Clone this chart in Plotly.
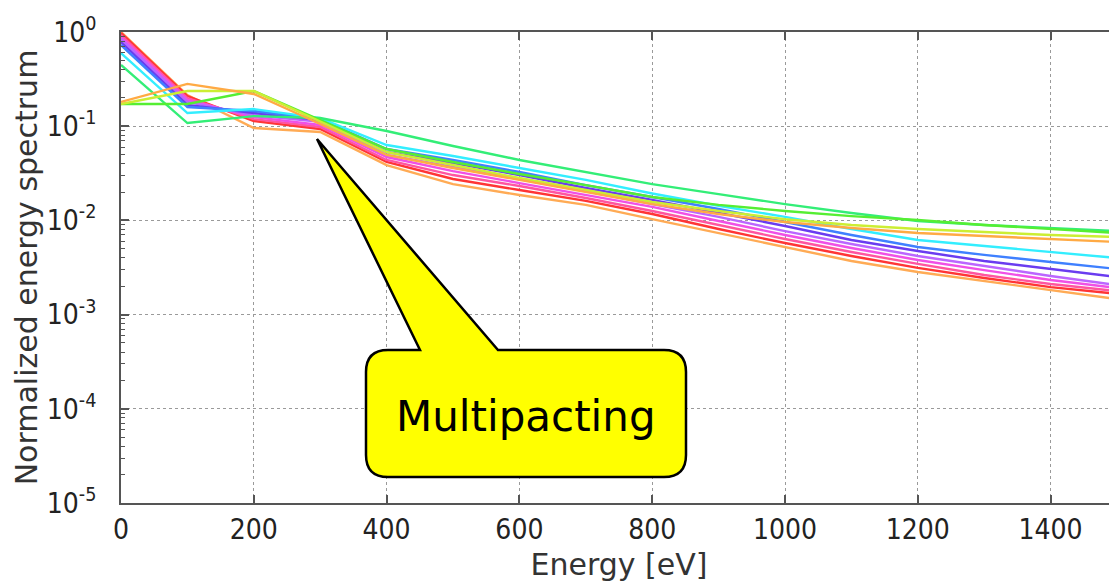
import plotly.graph_objects as go

# ---------------- data ----------------
energy = [0, 100, 200, 300, 400, 500, 600, 700, 800, 900, 1000, 1100, 1200, 1300, 1400, 1500]

spec_orange_low = [1.0, 0.214, 0.0957, 0.0868, 0.0387, 0.0243, 0.0186, 0.0146, 0.0103, 0.00735, 0.00522, 0.00371, 0.00283, 0.00227, 0.00182, 0.00146]
spec_red = [0.976, 0.209, 0.1135, 0.0934, 0.0417, 0.0275, 0.021, 0.0161, 0.0117, 0.0081, 0.00575, 0.00419, 0.00313, 0.00245, 0.00196, 0.00166]
spec_pink = [0.929, 0.199, 0.119, 0.098, 0.0438, 0.0303, 0.0232, 0.0173, 0.0126, 0.00894, 0.00635, 0.00462, 0.00345, 0.00263, 0.00211, 0.00178]
spec_magenta = [0.885, 0.19, 0.125, 0.103, 0.0471, 0.0334, 0.0249, 0.0186, 0.0139, 0.00986, 0.007, 0.0051, 0.0038, 0.00297, 0.00233, 0.00192]
spec_violet = [0.843, 0.181, 0.131, 0.111, 0.0495, 0.0369, 0.0275, 0.0205, 0.0149, 0.0109, 0.0077, 0.00561, 0.00419, 0.00328, 0.00257, 0.00206]
spec_purple = [0.783, 0.168, 0.138, 0.116, 0.0532, 0.0407, 0.0303, 0.0221, 0.0165, 0.012, 0.00873, 0.0062, 0.00473, 0.00371, 0.00305, 0.00251]
spec_blue = [0.728, 0.16, 0.145, 0.119, 0.0573, 0.0438, 0.0326, 0.0237, 0.0177, 0.0132, 0.00962, 0.007, 0.00522, 0.0043, 0.00362, 0.00305]
spec_cyan = [0.598, 0.138, 0.152, 0.122, 0.0631, 0.0483, 0.036, 0.0269, 0.0193, 0.0143, 0.0109, 0.0081, 0.0062, 0.00535, 0.00462, 0.00399]
spec_spring = [0.447, 0.108, 0.128, 0.122, 0.089, 0.0616, 0.0438, 0.0326, 0.0243, 0.019, 0.0149, 0.012, 0.00986, 0.00894, 0.0083, 0.0077]
spec_lime = [0.172, 0.172, 0.236, 0.116, 0.0573, 0.0417, 0.0311, 0.0237, 0.0177, 0.0146, 0.0126, 0.0111, 0.0101, 0.00894, 0.0081, 0.00735]
spec_yellowgreen = [0.172, 0.236, 0.236, 0.111, 0.0532, 0.0387, 0.0282, 0.021, 0.0157, 0.0126, 0.0103, 0.00894, 0.0081, 0.00753, 0.007, 0.00667]
spec_orange_top = [0.181, 0.281, 0.22, 0.1055, 0.0495, 0.036, 0.0269, 0.02, 0.0149, 0.0117, 0.00962, 0.0083, 0.00735, 0.00683, 0.00635, 0.0059]

x_tick_vals = [0, 200, 400, 600, 800, 1000, 1200, 1400]
y_tick_vals = [1e-5, 1e-4, 1e-3, 1e-2, 1e-1, 1e0]
y_tick_text = ["10<sup>-5</sup>", "10<sup>-4</sup>", "10<sup>-3</sup>",
               "10<sup>-2</sup>", "10<sup>-1</sup>", "10<sup>0</sup>"]
y_minor_vals = [m * 10.0 ** e for e in range(-5, 0) for m in range(2, 10)]

callout_text = "Multipacting"

# ---------------- styling ----------------
series = [
    (spec_orange_low, "#ffab55"),
    (spec_red, "#ff3535"),
    (spec_pink, "#ff55a0"),
    (spec_magenta, "#f050e6"),
    (spec_violet, "#bb66ff"),
    (spec_purple, "#6a3cf0"),
    (spec_blue, "#3f80ff"),
    (spec_cyan, "#33eeff"),
    (spec_spring, "#33ee77"),
    (spec_lime, "#55ee33"),
    (spec_yellowgreen, "#ccee33"),
    (spec_orange_top, "#ffaa44"),
]

# the page body has an 8px margin, so the figure sits 8px right/down of the window origin
PAGE_OFF = 8
WIN_W, WIN_H = 1117, 583
# target plot area in window pixels
AREA_L, AREA_T, AREA_R, AREA_B = 121, 32, 1117, 503
PLOT_W = AREA_R - AREA_L
PLOT_H = AREA_B - AREA_T

W = WIN_W - PAGE_OFF
H = WIN_H - PAGE_OFF
M_L = AREA_L - PAGE_OFF
M_T = AREA_T - PAGE_OFF
M_R = W - M_L - PLOT_W
M_B = H - M_T - PLOT_H

tick_font = dict(family="DejaVu Sans Condensed, DejaVu Sans, sans-serif",
                 size=28, color="#222")
title_font = dict(family="DejaVu Sans, sans-serif", size=30, color="#333")
frame = "#555"
grid = "#9a9a9a"

fig = go.Figure()
for vals, col in series:
    fig.add_trace(go.Scatter(x=energy, y=vals, mode="lines",
                             line=dict(color=col, width=2.4), showlegend=False,
                             hoverinfo="skip"))

# callout geometry in window pixels, converted to paper fractions
def px(x):
    return (x - AREA_L) / PLOT_W

def py(y):
    return (AREA_B - y) / PLOT_H

bl, br, bt, bb, r = 366, 686, 350, 477, 22
tipx, tipy = 317, 139
base_l, base_r = 420, 498

path = (
    f"M {px(base_l)},{py(bt)} L {px(tipx)},{py(tipy)} L {px(base_r)},{py(bt)} "
    f"L {px(br - r)},{py(bt)} Q {px(br)},{py(bt)} {px(br)},{py(bt + r)} "
    f"L {px(br)},{py(bb - r)} Q {px(br)},{py(bb)} {px(br - r)},{py(bb)} "
    f"L {px(bl + r)},{py(bb)} Q {px(bl)},{py(bb)} {px(bl)},{py(bb - r)} "
    f"L {px(bl)},{py(bt + r)} Q {px(bl)},{py(bt)} {px(bl + r)},{py(bt)} Z"
)
fig.add_shape(type="path", path=path, xref="paper", yref="paper",
              fillcolor="#ffff00", line=dict(color="#000", width=2.5), layer="above")
fig.add_annotation(text=callout_text, x=px((bl + br) / 2), y=py(416),
                   xref="paper", yref="paper", showarrow=False,
                   xanchor="center", yanchor="middle",
                   font=dict(family="DejaVu Sans, sans-serif", size=42, color="#000"))

fig.update_layout(
    width=W, height=H,
    margin=dict(l=M_L, r=M_R, t=M_T, b=M_B, pad=0, autoexpand=False),
    paper_bgcolor="white", plot_bgcolor="white",
    showlegend=False,
    xaxis=dict(
        range=[0, 1500], tickmode="array", tickvals=x_tick_vals, automargin=False,
        showgrid=True, gridcolor=grid, griddash="dot", gridwidth=1,
        zeroline=False, showline=True, linecolor=frame, linewidth=2,
        mirror="ticks", ticks="inside", ticklen=8, tickcolor=frame, tickwidth=1.5,
        tickfont=tick_font, ticklabelstandoff=0,
        title=dict(text="Energy [eV]", font=title_font, standoff=9),
    ),
    yaxis=dict(
        type="log", range=[-5, 0], tickmode="array", automargin=False,
        tickvals=y_tick_vals, ticktext=y_tick_text,
        showgrid=True, gridcolor=grid, griddash="dot", gridwidth=1,
        zeroline=False, showline=True, linecolor=frame, linewidth=2,
        mirror=False, ticks="inside", ticklen=8, tickcolor=frame, tickwidth=1.5,
        minor=dict(tickmode="array", tickvals=y_minor_vals, ticks="inside",
                   ticklen=4, tickcolor=frame, tickwidth=1, showgrid=False),
        tickfont=tick_font, ticklabelstandoff=17,
        title=dict(text="Normalized energy spectrum", font=title_font, standoff=0),
    ),
)

fig.write_html("out.html")
